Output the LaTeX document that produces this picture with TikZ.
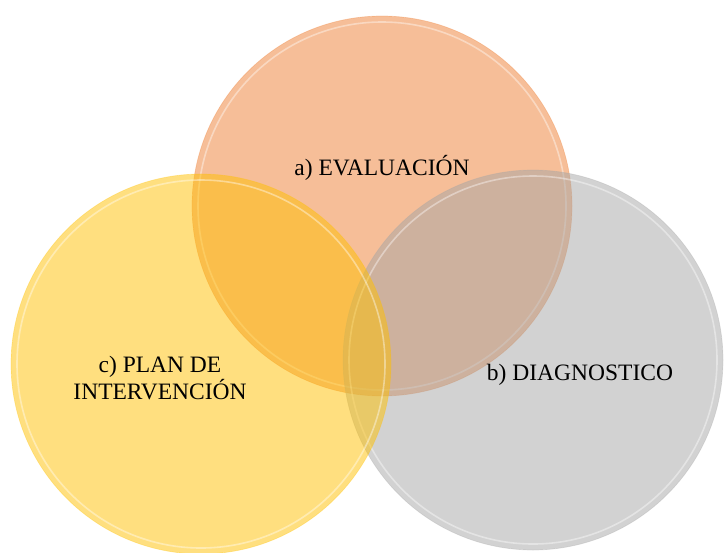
\documentclass[tikz,border=0pt]{standalone}
\usepackage{fontspec}
\setmainfont{Liberation Serif}
\definecolor{corange}{RGB}{237,125,49}
\definecolor{cgray}{RGB}{165,165,165}
\definecolor{cyellow}{RGB}{255,192,0}
\tikzset{
  venn/.style={circle, minimum size=380pt, inner sep=0pt, fill opacity=0.5, draw opacity=0.3, line width=0.7pt},
  rim/.style={circle, minimum size=368pt, inner sep=0pt, draw=white, draw opacity=0.4, line width=1.6pt},
  lbl/.style={font=\fontsize{23.5}{25}\selectfont, align=center, text=black, inner sep=0pt}
}
\begin{document}
\begin{tikzpicture}[x=1pt,y=-1pt]
\useasboundingbox (0,0) rectangle (725,552);
\begin{scope}
\clip (0,0) rectangle (725,552);
\node[venn, fill=corange, draw=corange] (ca) at (382,206) {};
\node[rim] (ra) at (382,206) {};
\node[venn, fill=cgray, draw=cgray] (cb) at (533,360) {};
\node[rim] (rb) at (533,360) {};
\node[venn, fill=cyellow, draw=cyellow] (cc) at (201,364) {};
\node[rim] (rc) at (201,364) {};
\end{scope}
\node[lbl] (ta) at (382,168) {a) EVALUACIÓN};
\node[lbl] (tb) at (580,375) {b) DIAGNOSTICO};
\node[lbl] (tc) at (160,378) {c) PLAN DE\\INTERVENCIÓN};
\end{tikzpicture}
\end{document}
